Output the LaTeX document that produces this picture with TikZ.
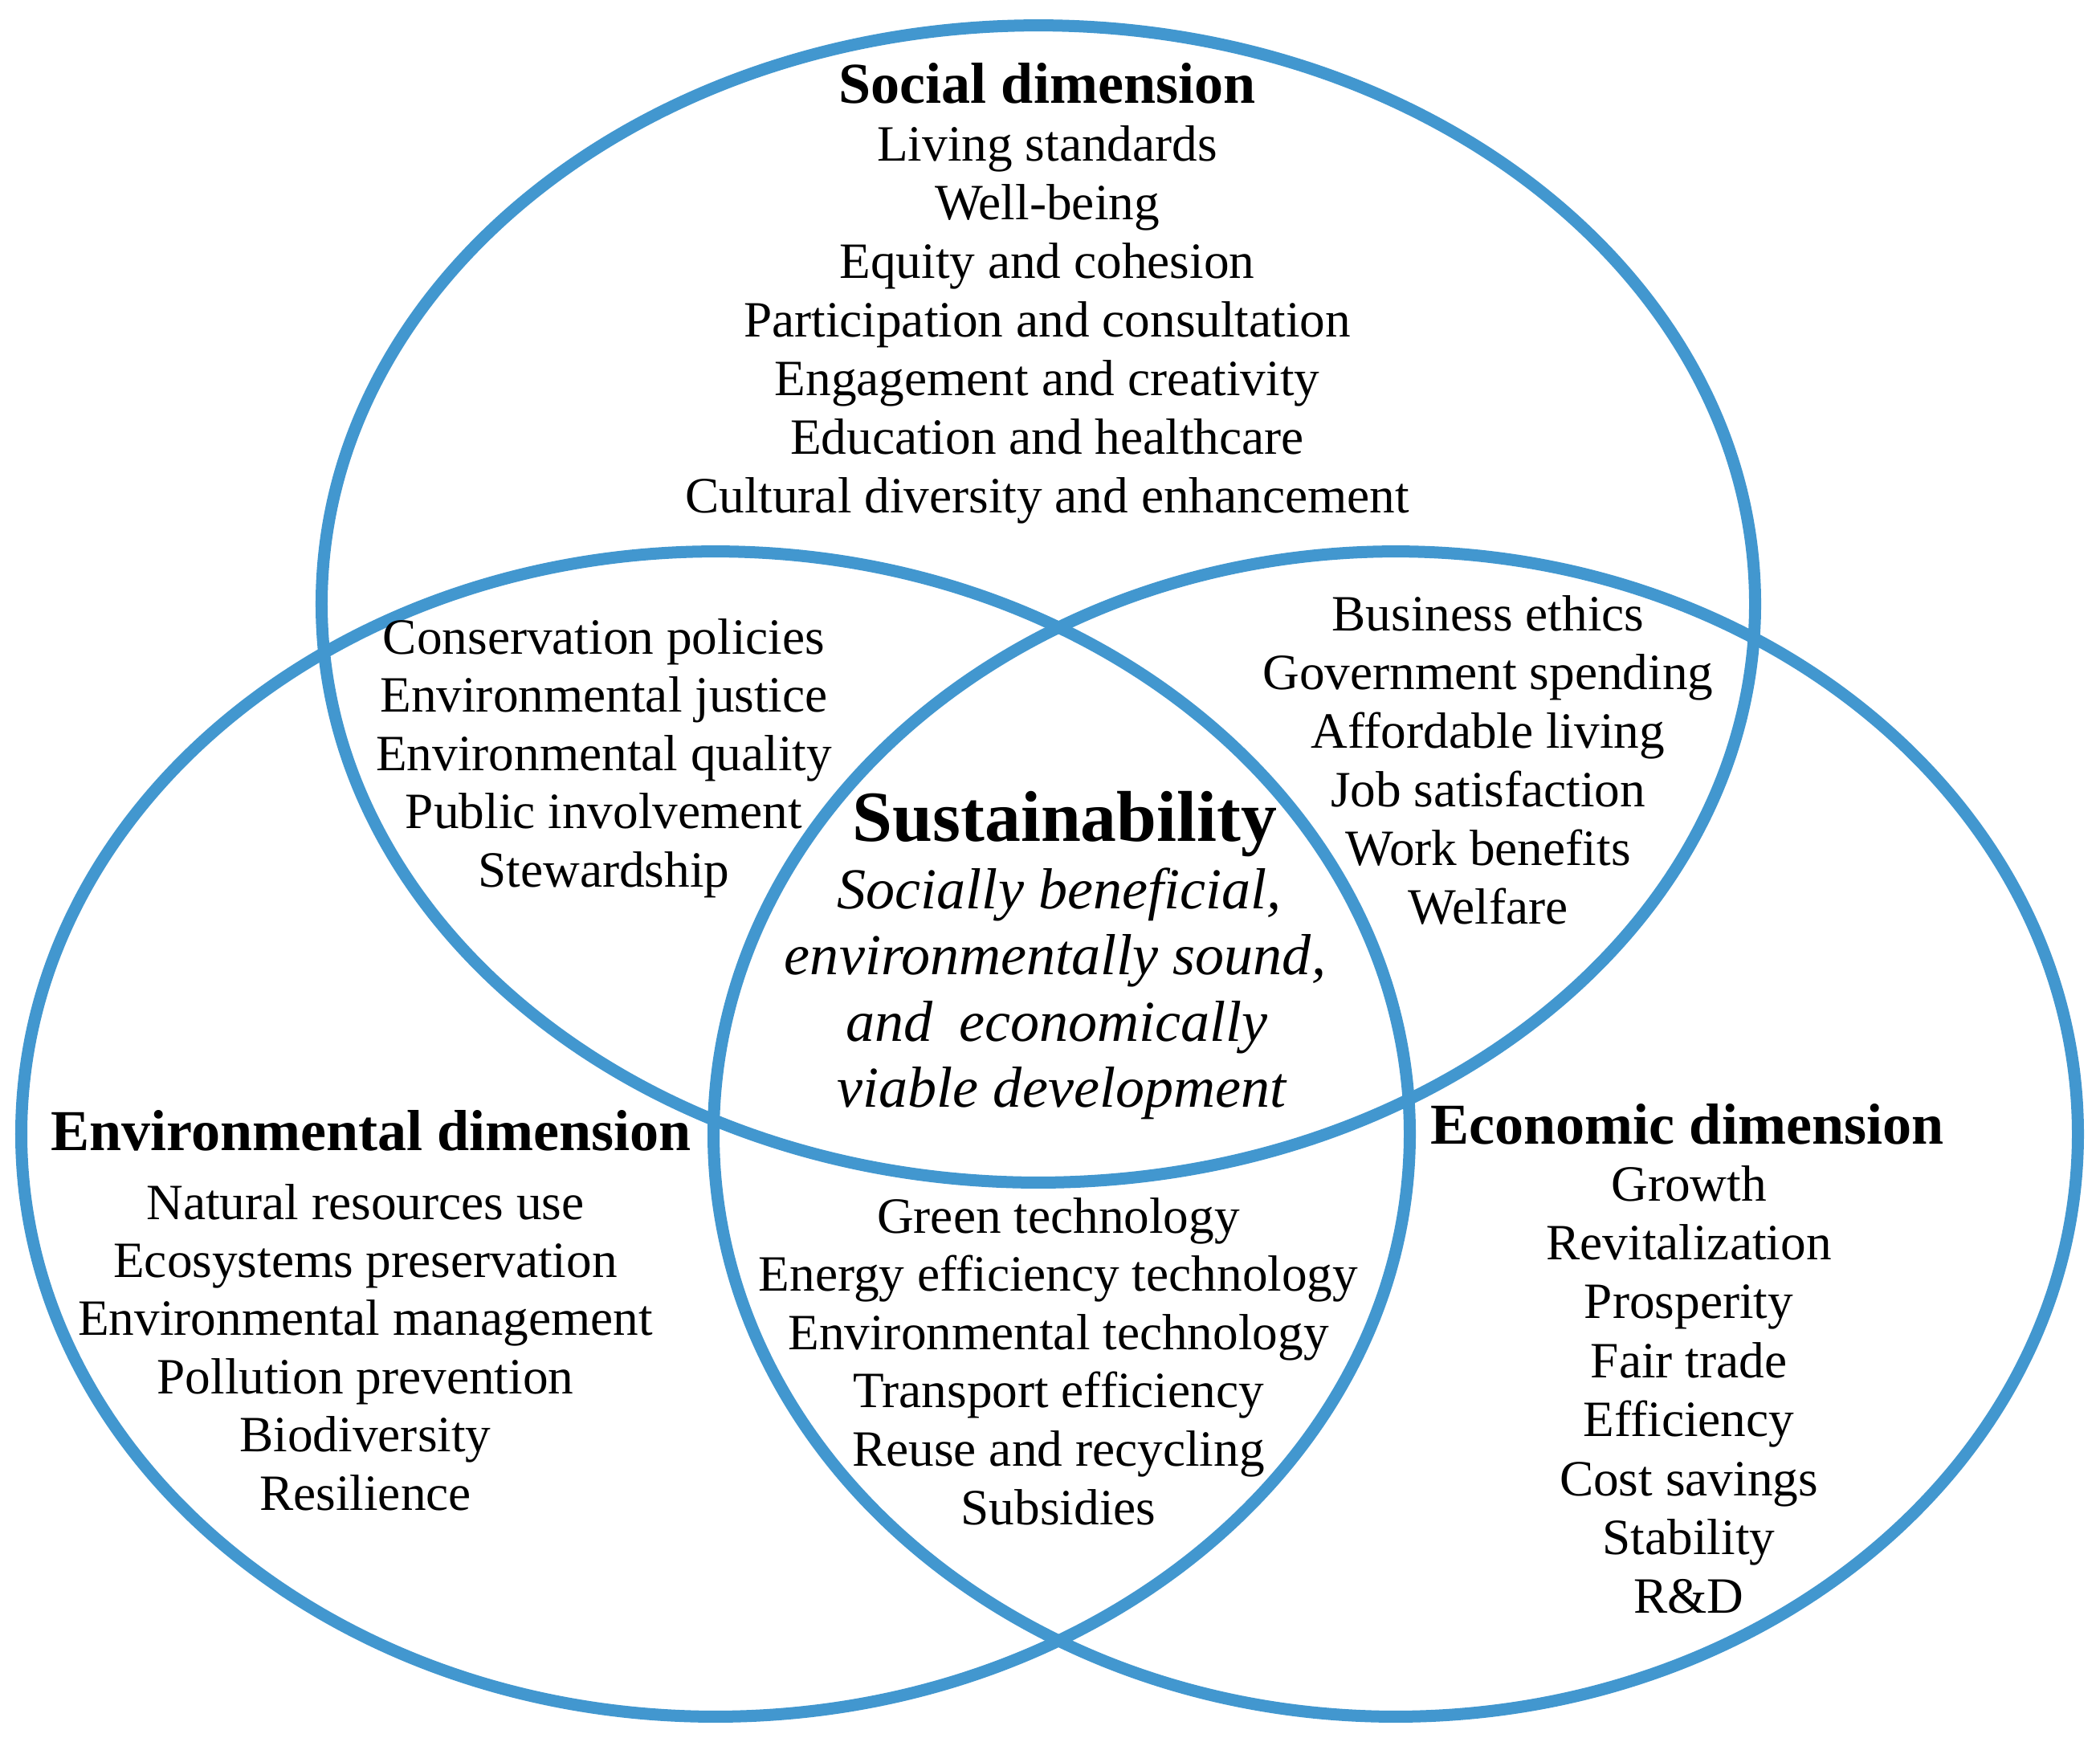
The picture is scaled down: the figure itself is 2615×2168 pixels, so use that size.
\documentclass[tikz,border=0pt]{standalone}
\usepackage{fontspec}
\setmainfont{Liberation Serif}
\definecolor{vennblue}{RGB}{66,151,207}
\begin{document}
\begin{tikzpicture}[x=0.01cm,y=-0.01cm,
  ring/.style={draw=vennblue,line width=0.15cm},
  item/.style={anchor=base,inner sep=0pt,font=\fontsize{18}{21}\selectfont},
  head/.style={anchor=base,inner sep=0pt,font=\fontsize{20.5}{24}\selectfont\bfseries},
  bighead/.style={anchor=base,inner sep=0pt,font=\fontsize{25.5}{30}\selectfont\bfseries},
  slant/.style={anchor=base,inner sep=0pt,font=\fontsize{20.5}{24}\selectfont\itshape}]
\useasboundingbox (0,0) rectangle (2615,2168);

% circles
\draw[ring] (1293,752) ellipse [x radius=8.92cm, y radius=7.20cm];
\draw[ring] (891,1412) ellipse [x radius=8.64cm, y radius=7.25cm];
\draw[ring] (1738,1412) ellipse [x radius=8.49cm, y radius=7.25cm];

% social dimension
\node[head] (sochead) at (1304,128) {Social dimension};
\foreach \t [count=\i from 0] in {{Living standards},{Well-being},{Equity and cohesion},{Participation and consultation},{Engagement and creativity},{Education and healthcare},{Cultural diversity and enhancement}}
  \node[item] (soc\i) at (1304,{200+\i*73.1}) {\t};

% social & environmental
\foreach \t [count=\i from 0] in {{Conservation policies},{Environmental justice},{Environmental quality},{Public involvement},{Stewardship}}
  \node[item] (se\i) at (752,{814+\i*72.5}) {\t};

% social & economic
\foreach \t [count=\i from 0] in {{Business ethics},{Government spending},{Affordable living},{Job satisfaction},{Work benefits},{Welfare}}
  \node[item] (sc\i) at (1853,{785+\i*73}) {\t};

% centre
\node[bighead] (sus) at (1326,1047) {Sustainability};
\node[slant] (sus0) at (1319,1131) {Socially beneficial,};
\node[slant] (sus1) at (1314,1213) {environmentally sound,};
\node[slant] (sus2) at (1316,1296) {and\hskip0.45em economically};
\node[slant] (sus3) at (1322,1378) {viable development};

% environmental dimension
\node[head] (envhead) at (462,1432) {Environmental dimension};
\foreach \t [count=\i from 0] in {{Natural resources use},{Ecosystems preservation},{Environmental management},{Pollution prevention},{Biodiversity},{Resilience}}
  \node[item] (env\i) at (455,{1518+\i*72.4}) {\t};

% environmental & economic
\foreach \t [count=\i from 0] in {{Green technology},{Energy efficiency technology},{Environmental technology},{Transport efficiency},{Reuse and recycling},{Subsidies}}
  \node[item] (ec\i) at (1318,{1535+\i*72.6}) {\t};

% economic dimension
\node[head] (ecohead) at (2101,1424) {Economic dimension};
\foreach \t [count=\i from 0] in {{Growth},{Revitalization},{Prosperity},{Fair trade},{Efficiency},{Cost savings},{Stability},{R\&D}}
  \node[item] (eco\i) at (2103,{1495+\i*73.4}) {\t};
\end{tikzpicture}
\end{document}
